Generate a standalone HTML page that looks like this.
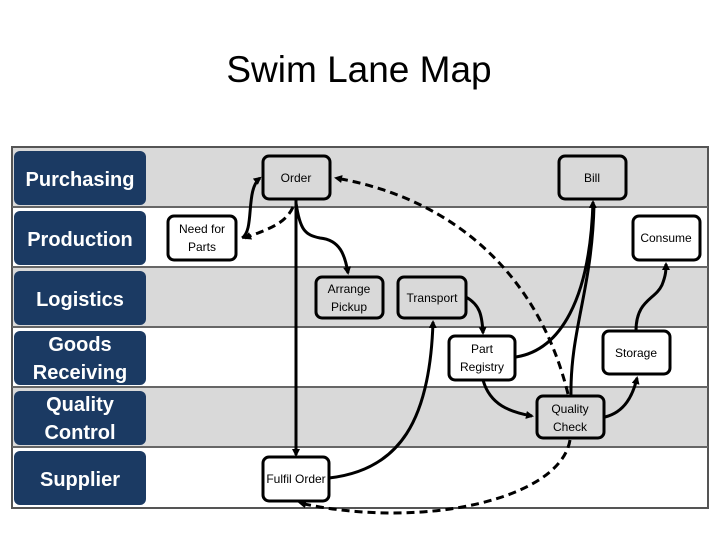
<!DOCTYPE html>
<html><head><style>
body{margin:0;width:720px;height:540px;background:#fff;overflow:hidden;font-family:"Liberation Sans",sans-serif}
</style></head><body>
<svg width="720" height="540" xmlns="http://www.w3.org/2000/svg" font-family="Liberation Sans, sans-serif">
<defs>
<marker id="a" markerWidth="8" markerHeight="8" refX="6" refY="4" orient="auto" markerUnits="userSpaceOnUse"><path d="M0,0 L8,4 L0,8 z" fill="#000"/></marker>
</defs>
<text x="359" y="82" font-size="37" text-anchor="middle" fill="#000">Swim Lane Map</text>
<rect x="12" y="147" width="696" height="361" fill="#fff" stroke="#555" stroke-width="2"/>
<rect x="13" y="148" width="694" height="59" fill="#d9d9d9"/>
<rect x="13" y="268" width="694" height="59" fill="#d9d9d9"/>
<rect x="13" y="388" width="694" height="59" fill="#d9d9d9"/>
<g stroke="#666" stroke-width="2">
<line x1="12" y1="207" x2="708" y2="207"/><line x1="12" y1="267" x2="708" y2="267"/>
<line x1="12" y1="327" x2="708" y2="327"/><line x1="12" y1="387" x2="708" y2="387"/>
<line x1="12" y1="447" x2="708" y2="447"/>
</g>
<g fill="#1b3a63">
<rect x="14" y="151" width="132" height="54" rx="6"/><rect x="14" y="211" width="132" height="54" rx="6"/>
<rect x="14" y="271" width="132" height="54" rx="6"/><rect x="14" y="331" width="132" height="54" rx="6"/>
<rect x="14" y="391" width="132" height="54" rx="6"/><rect x="14" y="451" width="132" height="54" rx="6"/>
</g>
<g fill="#fff" font-size="20" font-weight="bold" text-anchor="middle">
<text x="80" y="186">Purchasing</text><text x="80" y="246">Production</text>
<text x="80" y="306">Logistics</text><text x="80" y="351">Goods</text><text x="80" y="379">Receiving</text>
<text x="80" y="411">Quality</text><text x="80" y="439">Control</text><text x="80" y="486">Supplier</text>
</g>
<g stroke="#000" stroke-width="3" fill="none">
<!-- connectors solid -->
<path d="M296,199 L296,455" marker-end="url(#a)"/>
<path d="M296,203 C300,230 305,235 320,238 C340,240 345,255 348,273" marker-end="url(#a)"/>
<path d="M242,238 C255,230 245,190 260,178" marker-end="url(#a)"/>
<path d="M329,478 C400,470 430,420 433,322" marker-end="url(#a)"/>
<path d="M466,297 C480,305 482,315 483,333" marker-end="url(#a)"/>
<path d="M516,357 C560,350 590,300 593,202" marker-end="url(#a)"/>
<path d="M571,396 C570,330 592,290 594,205"/>
<path d="M483,380 C490,405 510,412 532,416" marker-end="url(#a)"/>
<path d="M605,417 C625,412 633,395 637,378" marker-end="url(#a)"/>
<path d="M636,331 C636,300 655,300 662,285 C666,275 666,270 666,264" marker-end="url(#a)"/>
</g>
<g stroke="#000" stroke-width="3" fill="none" stroke-dasharray="8,5">
<path d="M293,207 C285,225 265,230 245,238" marker-end="url(#a)"/>
<path d="M568,394 C540,280 460,200 336,178" marker-end="url(#a)"/>
<path d="M570,440 C560,500 420,530 300,503" marker-end="url(#a)"/>
</g>
<g stroke="#000" stroke-width="3">
<rect x="263" y="156" width="67" height="43" rx="6" fill="#d9d9d9"/>
<rect x="168" y="216" width="68" height="44" rx="6" fill="#fff"/>
<rect x="316" y="277" width="67" height="41" rx="6" fill="#d9d9d9"/>
<rect x="398" y="277" width="68" height="41" rx="6" fill="#d9d9d9"/>
<rect x="449" y="336" width="66" height="44" rx="6" fill="#fff"/>
<rect x="537" y="396" width="67" height="42" rx="6" fill="#d9d9d9"/>
<rect x="603" y="331" width="67" height="43" rx="6" fill="#fff"/>
<rect x="633" y="216" width="67" height="44" rx="6" fill="#fff"/>
<rect x="559" y="156" width="67" height="43" rx="6" fill="#d9d9d9"/>
<rect x="263" y="457" width="66" height="44" rx="6" fill="#fff"/>
</g>
<g font-size="12" text-anchor="middle" fill="#000">
<text x="296" y="182">Order</text>
<text x="202" y="233">Need for</text><text x="202" y="251">Parts</text>
<text x="349" y="293">Arrange</text><text x="349" y="311">Pickup</text>
<text x="432" y="302">Transport</text>
<text x="482" y="353">Part</text><text x="482" y="371">Registry</text>
<text x="570" y="413">Quality</text><text x="570" y="431">Check</text>
<text x="636" y="357">Storage</text>
<text x="666" y="242">Consume</text>
<text x="592" y="182">Bill</text>
<text x="296" y="483">Fulfil Order</text>
</g>
</svg>
</body></html>
